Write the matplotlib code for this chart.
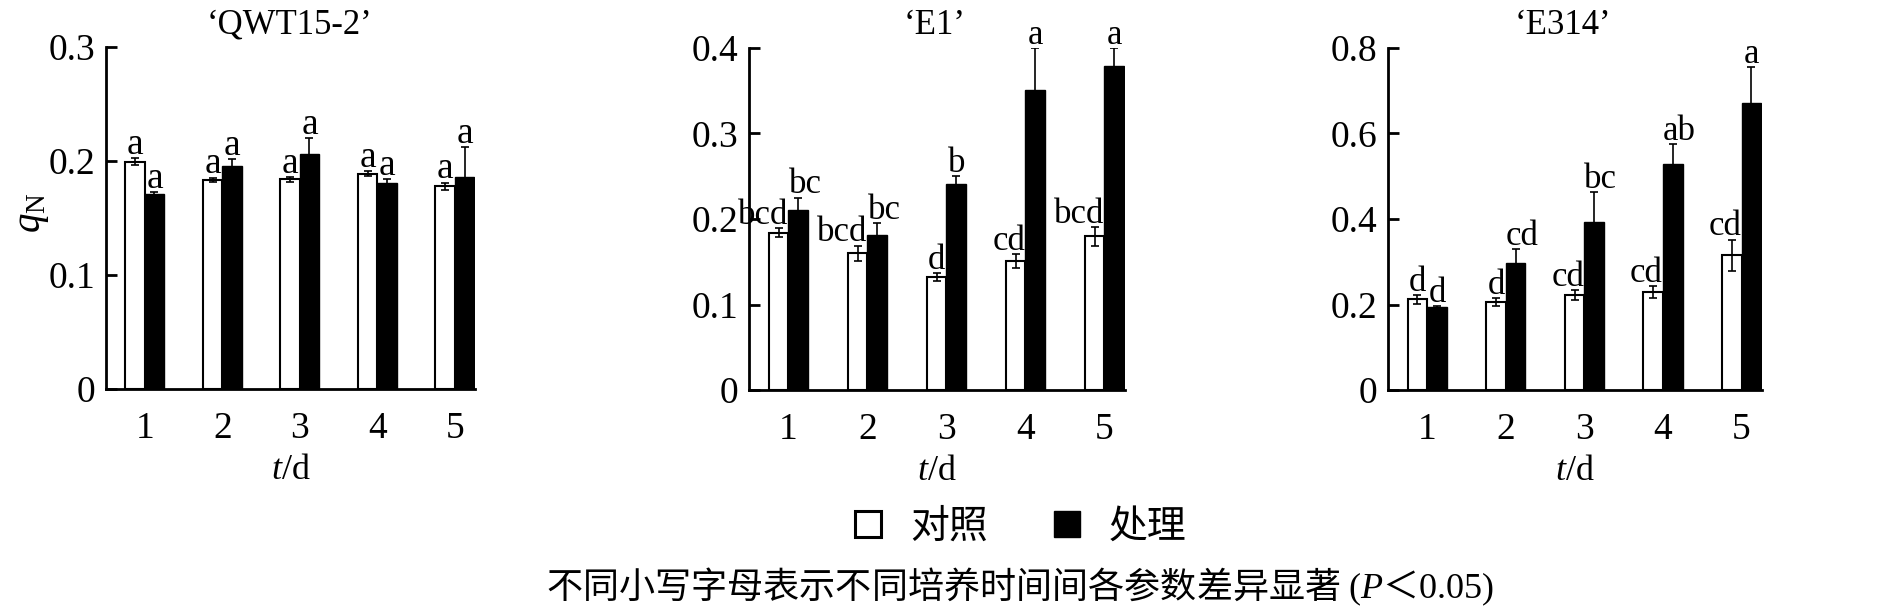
import numpy as np
import matplotlib
matplotlib.use("Agg")
import matplotlib.pyplot as plt
from matplotlib.patches import Patch

plt.rcParams['font.family'] = ['Liberation Serif', 'Noto Sans CJK SC']
plt.rcParams['mathtext.fontset'] = 'custom'
plt.rcParams['mathtext.rm'] = 'Liberation Serif'
plt.rcParams['mathtext.it'] = 'Liberation Serif:italic'

# ---- data ----
days = [1, 2, 3, 4, 5]
cultivars = ["‘QWT15-2’", "‘E1’", "‘E314’"]

qwt_ck = [0.1995, 0.1835, 0.184, 0.189, 0.178]
qwt_ck_err = [0.003, 0.002, 0.002, 0.002, 0.003]
qwt_tr = [0.171, 0.196, 0.206, 0.181, 0.186]
qwt_tr_err = [0.0015, 0.006, 0.014, 0.003, 0.026]
qwt_ck_sig = ["a", "a", "a", "a", "a"]
qwt_tr_sig = ["a", "a", "a", "a", "a"]

e1_ck = [0.184, 0.160, 0.132, 0.151, 0.180]
e1_ck_err = [0.005, 0.009, 0.005, 0.008, 0.011]
e1_tr = [0.211, 0.181, 0.241, 0.351, 0.379]
e1_tr_err = [0.014, 0.014, 0.009, 0.049, 0.021]
e1_ck_sig = ["bcd", "bcd", "d", "cd", "bcd"]
e1_tr_sig = ["bc", "bc", "b", "a", "a"]

e314_ck = [0.212, 0.206, 0.222, 0.230, 0.315]
e314_ck_err = [0.011, 0.009, 0.012, 0.014, 0.037]
e314_tr = [0.194, 0.297, 0.392, 0.529, 0.672]
e314_tr_err = [0.002, 0.033, 0.070, 0.047, 0.084]
e314_ck_sig = ["d", "d", "cd", "cd", "cd"]
e314_tr_sig = ["d", "cd", "bc", "ab", "a"]

ylims = [0.3, 0.4, 0.8]
ysteps = [0.1, 0.1, 0.2]

panels = [
    (qwt_ck, qwt_ck_err, qwt_tr, qwt_tr_err, qwt_ck_sig, qwt_tr_sig),
    (e1_ck, e1_ck_err, e1_tr, e1_tr_err, e1_ck_sig, e1_tr_sig),
    (e314_ck, e314_ck_err, e314_tr, e314_tr_err, e314_ck_sig, e314_tr_sig),
]

# axes boxes in figure pixels: left, right, top, bottom
W, H = 1890, 611
boxes = [(106, 475, 47, 389), (749, 1125, 48, 390), (1388, 1762, 48, 390)]
title_x = [0.497, 0.495, 0.468]
sig_size = [27, 25, 25]

fig = plt.figure(figsize=(W / 100, H / 100), dpi=100)

w = 0.25
x = np.array(days)
ekw = dict(ecolor="black", elinewidth=1.2, capsize=3, capthick=1.2)

for i, (ck, ck_err, tr, tr_err, ck_sig, tr_sig) in enumerate(panels):
    l, r, t, b = boxes[i]
    ax = fig.add_axes([l / W, 1 - b / H, (r - l) / W, (b - t) / H])

    ax.bar(x - w / 2, ck, w, color="white", edgecolor="black", linewidth=1.5,
           yerr=ck_err, error_kw=ekw)
    ax.bar(x + w / 2, tr, w, color="black", edgecolor="black", linewidth=1.0,
           yerr=tr_err, error_kw=ekw)

    # significance letters: long labels hug the group centre like the original
    for xi, v, e, s in zip(x, ck, ck_err, ck_sig):
        if len(s) > 1:
            px, ha = xi, "right"
        else:
            px, ha = xi - w / 2, "center"
        ax.annotate(s, (px, v + e), xytext=(0, 3), textcoords="offset points",
                    ha=ha, va="baseline", fontsize=sig_size[i], annotation_clip=False)
    for xi, v, e, s in zip(x, tr, tr_err, tr_sig):
        if len(s) > 1:
            px, ha = xi, "left"
        else:
            px, ha = xi + w / 2, "center"
        ax.annotate(s, (px, v + e), xytext=(0, 3), textcoords="offset points",
                    ha=ha, va="baseline", fontsize=sig_size[i], annotation_clip=False)

    ax.set_xlim(0.5, 5.26)
    ax.set_ylim(0, ylims[i])
    ticks = np.arange(0, ylims[i] + 1e-9, ysteps[i])
    ax.set_yticks(ticks)
    ax.set_yticklabels(["0" if v == 0 else f"{v:.1f}" for v in ticks])
    ax.set_xticks(days)

    ax.spines[["top", "right"]].set_visible(False)
    ax.spines["left"].set_linewidth(2)
    ax.spines["bottom"].set_linewidth(2)
    ax.tick_params(axis="y", direction="in", length=8, width=2, labelsize=27, pad=8)
    ax.tick_params(axis="x", length=0, labelsize=27, pad=16)

    ax.set_xlabel("$t$/d", fontsize=26, labelpad=6)
    ax.set_title(cultivars[i], fontsize=25, pad=10, x=title_x[i])

    if i == 0:
        ax.set_ylabel(r"$q_{\mathrm{N}}$", fontsize=28)
        ax.yaxis.set_label_coords(-0.15, 0.515)

handles = [Patch(facecolor="white", edgecolor="black", linewidth=2.2),
           Patch(facecolor="black", edgecolor="black")]
fig.legend(handles, ["对照", "处理"], loc="center", bbox_to_anchor=(0.540, 0.138),
           ncol=2, frameon=False, prop={"family": "Noto Sans CJK SC", "size": 28},
           handlelength=0.67, handleheight=0.67, handletextpad=0.75,
           columnspacing=1.7)

fig.text(0.540, 1 - 587 / H, "不同小写字母表示不同培养时间间各参数差异显著 $(P$＜$0.05)$",
         ha="center", va="center", fontsize=26, family="Noto Sans CJK SC")

fig.savefig("out.png", dpi=100)
